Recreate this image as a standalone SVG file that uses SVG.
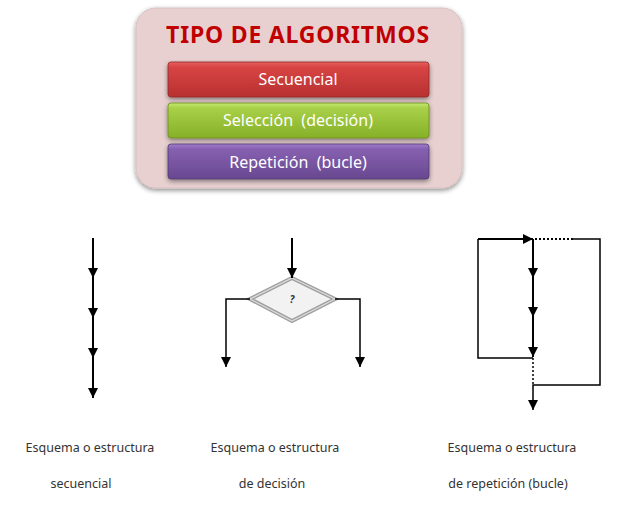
<svg xmlns="http://www.w3.org/2000/svg" width="631" height="514" viewBox="0 0 631 514">
<style>
.t{font-family:"Noto Sans","Open Sans","DejaVu Sans",sans-serif;}
.bar{font-family:"Noto Sans","Open Sans",sans-serif;font-size:16px;fill:#ffffff;text-anchor:middle;white-space:pre;}
.lab{font-family:"Noto Sans","Open Sans",sans-serif;font-size:12.5px;fill:#333333;}
.thick{stroke:#000;stroke-width:2;fill:none;}
.thin{stroke:#000;stroke-width:1.5;fill:none;}
.dot{stroke:#000;stroke-width:2;fill:none;stroke-dasharray:2 2;}
</style>
<defs>
<linearGradient id="gr" x1="0" y1="0" x2="0" y2="1">
<stop offset="0" stop-color="#e86060"/><stop offset="0.15" stop-color="#d84444"/><stop offset="1" stop-color="#b83030"/>
</linearGradient>
<linearGradient id="gg" x1="0" y1="0" x2="0" y2="1">
<stop offset="0" stop-color="#c4e870"/><stop offset="0.15" stop-color="#a8d048"/><stop offset="1" stop-color="#86b028"/>
</linearGradient>
<linearGradient id="gp" x1="0" y1="0" x2="0" y2="1">
<stop offset="0" stop-color="#a07ccc"/><stop offset="0.15" stop-color="#8660b0"/><stop offset="1" stop-color="#684890"/>
</linearGradient>
<filter id="sh" x="-10%" y="-10%" width="120%" height="130%">
<feGaussianBlur in="SourceAlpha" stdDeviation="2.5"/>
<feOffset dy="2" result="b"/>
<feComponentTransfer><feFuncA type="linear" slope="0.45"/></feComponentTransfer>
<feMerge><feMergeNode/><feMergeNode in="SourceGraphic"/></feMerge>
</filter>
<marker id="ah" viewBox="0 0 10 10" refX="10" refY="5" markerWidth="10" markerHeight="10" markerUnits="userSpaceOnUse" orient="auto">
<path d="M0,0 L10,5 L0,10 Z" fill="#000"/>
</marker>
</defs>
<rect width="631" height="514" fill="#ffffff"/>

<g id="panel">
<rect x="136" y="8" width="326" height="180" rx="20" ry="20" fill="#e8d0d0" stroke="#d8c0c0" stroke-width="1" filter="url(#sh)"/>
<text class="t" x="298" y="43" font-size="23" font-weight="bold" fill="#c00000" text-anchor="middle" letter-spacing="0.8">TIPO DE ALGORITMOS</text>
</g>
<g id="secuencial">
<rect x="168" y="62" width="261" height="35" rx="3" fill="url(#gr)" stroke="#902828" stroke-width="0.8" filter="url(#sh)"/>
<text class="bar" x="298" y="85">Secuencial</text>
</g>
<g id="seleccion">
<rect x="168" y="103" width="261" height="35" rx="3" fill="url(#gg)" stroke="#6a8c20" stroke-width="0.8" filter="url(#sh)"/>
<text class="bar" x="298" y="126" xml:space="preserve">Selección  (decisión)</text>
</g>
<g id="repeticion">
<rect x="168" y="144" width="261" height="35" rx="3" fill="url(#gp)" stroke="#503870" stroke-width="0.8" filter="url(#sh)"/>
<text class="bar" x="298" y="168" xml:space="preserve">Repetición  (bucle)</text>
</g>

<g id="decision">
<polygon points="292,278 335,299 292,321 250,299" fill="#f2f2f2" stroke="#a0a0a0" stroke-width="4"/>
<polygon points="292,278 335,299 292,321 250,299" fill="none" stroke="#dcdcdc" stroke-width="1.2"/>
<text class="t" x="292" y="303" font-size="10" font-style="italic" font-weight="bold" fill="#333" text-anchor="middle">?</text>
</g>

<g id="connectors">
<line class="thick" x1="93" y1="238" x2="93" y2="278" marker-end="url(#ah)"/>
<line class="thick" x1="93" y1="278" x2="93" y2="318" marker-end="url(#ah)"/>
<line class="thick" x1="93" y1="318" x2="93" y2="358" marker-end="url(#ah)"/>
<line class="thick" x1="93" y1="358" x2="93" y2="398" marker-end="url(#ah)"/>
<line class="thick" x1="292" y1="238" x2="292" y2="278" marker-end="url(#ah)"/>
<polyline class="thin" points="250,299 226,299 226,367" stroke-width="1.8" marker-end="url(#ah)"/>
<polyline class="thin" points="335,299 360,299 360,367" stroke-width="1.8" marker-end="url(#ah)"/>
<line class="thick" x1="478" y1="239" x2="533" y2="239" marker-end="url(#ah)"/>
<line class="dot" x1="535" y1="239" x2="573" y2="239"/>
<polyline class="thin" points="573,239 600,239 600,385 533,385 533,410" marker-end="url(#ah)"/>
<line class="thick" x1="533" y1="239" x2="533" y2="278" marker-end="url(#ah)"/>
<line class="thick" x1="533" y1="278" x2="533" y2="317" marker-end="url(#ah)"/>
<line class="thick" x1="533" y1="317" x2="533" y2="357" marker-end="url(#ah)"/>
<polyline class="thin" points="478,239 478,358 533,358"/>
<line stroke="#000" stroke-width="1.5" stroke-dasharray="2 2" x1="533" y1="358" x2="533" y2="385"/>
</g>

<g id="labels">
<text class="lab" x="90" y="452" text-anchor="middle">Esquema o estructura</text>
<text class="lab" x="81" y="488" text-anchor="middle">secuencial</text>
<text class="lab" x="275" y="452" text-anchor="middle">Esquema o estructura</text>
<text class="lab" x="272" y="488" text-anchor="middle">de decisión</text>
<text class="lab" x="512" y="452" text-anchor="middle">Esquema o estructura</text>
<text class="lab" x="508" y="488" text-anchor="middle">de repetición (bucle)</text>
</g>
</svg>
